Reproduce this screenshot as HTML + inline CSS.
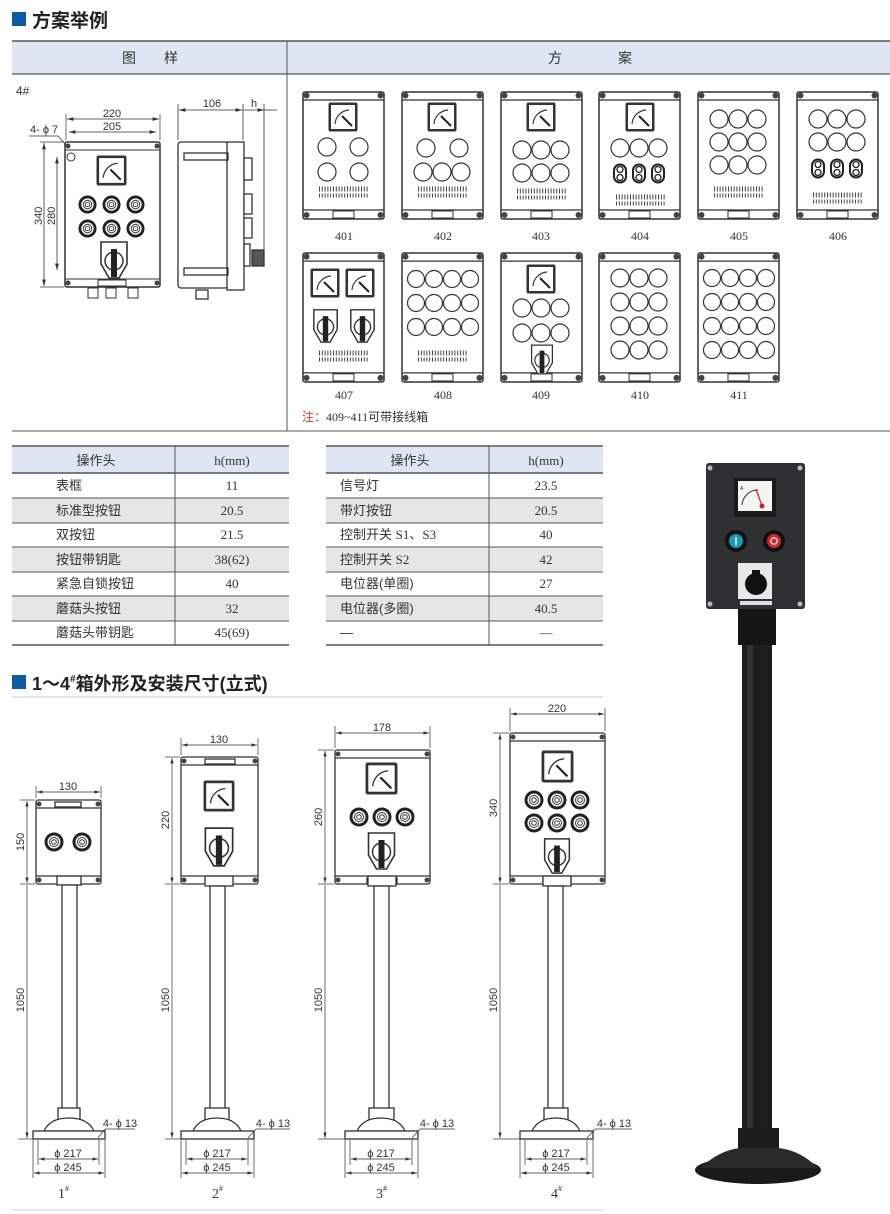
<!DOCTYPE html>
<html><head><meta charset="utf-8"><style>
html,body{margin:0;padding:0;background:#fff;}
svg{display:block;font-family:"Liberation Sans","Noto Sans CJK SC",sans-serif;}
.s{font-family:"Liberation Serif","Noto Sans CJK SC",serif;}
</style></head><body>
<svg width="890" height="1214" viewBox="0 0 890 1214" xmlns="http://www.w3.org/2000/svg">
<defs>
<symbol id="meter" viewBox="0 0 30 30"><rect x="0.5" y="0.5" width="29" height="29" rx="2" fill="#333"/><rect x="3" y="3" width="24" height="24" fill="#fff"/><path d="M7,22 A15,15 0 0 1 21,8" fill="none" stroke="#333" stroke-width="1.2"/><line x1="14" y1="14" x2="24" y2="24" stroke="#222" stroke-width="2"/></symbol>
<symbol id="sw" viewBox="0 0 30 40"><path d="M2,2 H28 V24 L20,38 H10 L2,24 Z" fill="#fff" stroke="#333" stroke-width="1.6"/><circle cx="15" cy="21" r="9" fill="none" stroke="#333" stroke-width="1.5"/><rect x="12" y="9" width="6" height="28" fill="#222"/></symbol>
<symbol id="btn" viewBox="0 0 20 20"><circle cx="10" cy="10" r="9.5" fill="#222"/><circle cx="10" cy="10" r="6.5" fill="#fff"/><circle cx="10" cy="10" r="4.5" fill="none" stroke="#333"/><circle cx="10" cy="10" r="2.3" fill="none" stroke="#333"/></symbol>
<symbol id="ov" viewBox="0 0 14 20"><rect x="1" y="1" width="12" height="18" rx="6" fill="none" stroke="#222" stroke-width="2"/><circle cx="7" cy="6" r="3" fill="none" stroke="#222" stroke-width="1.3"/><circle cx="7" cy="14" r="3" fill="none" stroke="#222" stroke-width="1.3"/></symbol>
<symbol id="sb" viewBox="0 0 83 129" preserveAspectRatio="none"><rect x="1" y="1" width="81" height="127" rx="2" fill="#fff" stroke="#333" stroke-width="1.5"/><line x1="1" y1="9" x2="82" y2="9" stroke="#333" stroke-width="1.2"/><line x1="1" y1="119" x2="82" y2="119" stroke="#333" stroke-width="1.2"/><circle cx="4.5" cy="4.5" r="3" fill="#444"/><circle cx="78.5" cy="4.5" r="3" fill="#444"/><circle cx="4.5" cy="124" r="3" fill="#444"/><circle cx="78.5" cy="124" r="3" fill="#444"/><rect x="31" y="120" width="21" height="7" fill="#fff" stroke="#333"/></symbol>
<symbol id="term" viewBox="0 0 50 12"><line x1="0" y1="3" x2="50" y2="3" stroke="#444" stroke-width="5" stroke-dasharray="1 1.8"/><line x1="0" y1="9.5" x2="50" y2="9.5" stroke="#444" stroke-width="4" stroke-dasharray="1 1.8"/></symbol>
<marker id="ar" viewBox="0 0 10 6" refX="10" refY="3" markerWidth="8" markerHeight="5" orient="auto-start-reverse"><path d="M0,0 L10,3 L0,6 Z" fill="#333"/></marker>
</defs>

<!-- Title 1 -->
<rect x="12" y="12" width="14" height="14" fill="#0d5aa7"/>
<text x="32" y="27" font-size="19" font-weight="bold" fill="#222">方案举例</text>
<rect x="12" y="41" width="878" height="33" fill="#dde6f2"/>
<line x1="12" y1="41" x2="890" y2="41" stroke="#555" stroke-width="1.5"/>
<line x1="12" y1="74" x2="890" y2="74" stroke="#555" stroke-width="1.2"/>
<line x1="287" y1="41" x2="287" y2="431" stroke="#555" stroke-width="1"/>
<line x1="12" y1="431" x2="890" y2="431" stroke="#555" stroke-width="1"/>
<text x="150" y="63" font-size="14" text-anchor="middle" fill="#333">图　　样</text>
<text x="590" y="63" font-size="14" text-anchor="middle" fill="#333">方　　　　案</text>
<text x="16" y="95" font-size="12" fill="#333">4#</text>

<!-- 4# front -->
<g stroke="#333" fill="none" font-size="11">
<rect x="65" y="142" width="95" height="145" rx="2" fill="#fff" stroke-width="1.5"/>
<line x1="65" y1="150" x2="160" y2="150"/><line x1="65" y1="279" x2="160" y2="279"/>
<rect x="98" y="280" width="28" height="6"/>
<line x1="66" y1="114" x2="66" y2="140" stroke-width=".7"/><line x1="160" y1="114" x2="160" y2="140" stroke-width=".7"/>
<line x1="67" y1="119" x2="159" y2="119" stroke-width=".8" marker-start="url(#ar)" marker-end="url(#ar)"/>
<line x1="69" y1="132" x2="156" y2="132" stroke-width=".8" marker-start="url(#ar)" marker-end="url(#ar)"/>
<line x1="40" y1="142" x2="64" y2="142" stroke-width=".7"/><line x1="40" y1="287" x2="64" y2="287" stroke-width=".7"/>
<line x1="44" y1="143" x2="44" y2="286" stroke-width=".8" marker-start="url(#ar)" marker-end="url(#ar)"/>
<line x1="57" y1="157" x2="57" y2="270" stroke-width=".8" marker-start="url(#ar)" marker-end="url(#ar)"/>
<line x1="29" y1="136" x2="58" y2="136" stroke-width=".7"/><line x1="58" y1="136" x2="67" y2="146" stroke-width=".7"/>
<circle cx="71" cy="157" r="4"/>
<rect x="88" y="288" width="10" height="10"/><rect x="106" y="288" width="10" height="10"/><rect x="128" y="288" width="10" height="10"/>
</g>
<g fill="#444"><circle cx="68" cy="146" r="2.5"/><circle cx="157" cy="146" r="2.5"/><circle cx="68" cy="283" r="2.5"/><circle cx="157" cy="283" r="2.5"/></g>
<text x="112" y="117" font-size="11" text-anchor="middle" fill="#333">220</text>
<text x="112" y="130" font-size="11" text-anchor="middle" fill="#333">205</text>
<text x="30" y="133" font-size="11" fill="#333">4- ϕ 7</text>
<text x="0" y="0" font-size="11" fill="#333" transform="translate(42,225) rotate(-90)">340</text>
<text x="0" y="0" font-size="11" fill="#333" transform="translate(55,225) rotate(-90)">280</text>
<use href="#meter" x="96" y="155" width="31" height="31"/>
<use href="#btn" x="78" y="195" width="19" height="19"/><use href="#btn" x="102" y="195" width="19" height="19"/><use href="#btn" x="126" y="195" width="19" height="19"/>
<use href="#btn" x="78" y="219" width="19" height="19"/><use href="#btn" x="102" y="219" width="19" height="19"/><use href="#btn" x="126" y="219" width="19" height="19"/>
<use href="#sw" x="97" y="240" width="34" height="40"/>

<!-- 4# side -->
<g stroke="#333" fill="#fff" stroke-width="1.3">
<rect x="178" y="142" width="50" height="146" rx="3"/>
<rect x="227" y="142" width="17" height="148"/>
<rect x="184" y="153" width="44" height="7" fill="none"/>
<rect x="184" y="268" width="44" height="7" fill="none"/>
<rect x="244" y="158" width="8" height="22"/><rect x="244" y="194" width="8" height="20"/><rect x="244" y="218" width="8" height="20"/><rect x="244" y="244" width="6" height="22"/>
<rect x="252" y="250" width="12" height="16" fill="#555"/>
<rect x="196" y="290" width="12" height="9"/>
</g>
<g stroke="#333" stroke-width=".8">
<line x1="178" y1="104" x2="178" y2="140"/><line x1="243" y1="104" x2="243" y2="140"/><line x1="264" y1="104" x2="264" y2="265"/>
<line x1="179" y1="110" x2="242" y2="110" marker-start="url(#ar)" marker-end="url(#ar)"/>
<line x1="243" y1="110" x2="264" y2="110" marker-end="url(#ar)"/><line x1="264" y1="110" x2="277" y2="110"/>
</g>
<text x="212" y="107" font-size="11" text-anchor="middle" fill="#333">106</text>
<text x="254" y="107" font-size="11" text-anchor="middle" fill="#333">h</text>

<!-- scheme boxes row1 -->
<g>
<use href="#sb" x="302" y="91" width="83" height="129"/><use href="#sb" x="401" y="91" width="83" height="129"/><use href="#sb" x="500" y="91" width="83" height="129"/><use href="#sb" x="598" y="91" width="83" height="129"/><use href="#sb" x="697" y="91" width="83" height="129"/><use href="#sb" x="796" y="91" width="83" height="129"/>
<use href="#sb" x="302" y="252" width="83" height="131"/><use href="#sb" x="401" y="252" width="83" height="131"/><use href="#sb" x="500" y="252" width="83" height="131"/><use href="#sb" x="598" y="252" width="83" height="131"/><use href="#sb" x="697" y="252" width="83" height="131"/>
</g>
<g fill="none" stroke="#333" stroke-width="1.2">
<!-- 401 -->
<circle cx="327" cy="147" r="9"/><circle cx="359" cy="147" r="9"/><circle cx="327" cy="172" r="9"/><circle cx="359" cy="172" r="9"/>
<!-- 402 -->
<circle cx="426" cy="148" r="9"/><circle cx="459" cy="148" r="9"/><circle cx="423" cy="172" r="9"/><circle cx="442" cy="172" r="9"/><circle cx="461" cy="172" r="9"/>
<!-- 403 -->
<circle cx="522" cy="150" r="9"/><circle cx="541" cy="150" r="9"/><circle cx="560" cy="150" r="9"/><circle cx="522" cy="173" r="9"/><circle cx="541" cy="173" r="9"/><circle cx="560" cy="173" r="9"/>
<!-- 404 -->
<circle cx="620" cy="148" r="9"/><circle cx="639" cy="148" r="9"/><circle cx="658" cy="148" r="9"/>
<!-- 405 -->
<circle cx="719" cy="119" r="9"/><circle cx="738" cy="119" r="9"/><circle cx="757" cy="119" r="9"/><circle cx="719" cy="142" r="9"/><circle cx="738" cy="142" r="9"/><circle cx="757" cy="142" r="9"/><circle cx="719" cy="165" r="9"/><circle cx="738" cy="165" r="9"/><circle cx="757" cy="165" r="9"/>
<!-- 406 -->
<circle cx="818" cy="119" r="9"/><circle cx="837" cy="119" r="9"/><circle cx="856" cy="119" r="9"/><circle cx="818" cy="142" r="9"/><circle cx="837" cy="142" r="9"/><circle cx="856" cy="142" r="9"/>
<!-- 408 -->
<circle cx="416" cy="279" r="8.5"/><circle cx="434" cy="279" r="8.5"/><circle cx="452" cy="279" r="8.5"/><circle cx="470" cy="279" r="8.5"/>
<circle cx="416" cy="303" r="8.5"/><circle cx="434" cy="303" r="8.5"/><circle cx="452" cy="303" r="8.5"/><circle cx="470" cy="303" r="8.5"/>
<circle cx="416" cy="327" r="8.5"/><circle cx="434" cy="327" r="8.5"/><circle cx="452" cy="327" r="8.5"/><circle cx="470" cy="327" r="8.5"/>
<!-- 409 -->
<circle cx="522" cy="308" r="9"/><circle cx="541" cy="308" r="9"/><circle cx="560" cy="308" r="9"/><circle cx="522" cy="333" r="9"/><circle cx="541" cy="333" r="9"/><circle cx="560" cy="333" r="9"/>
<!-- 410 -->
<circle cx="620" cy="278" r="9"/><circle cx="639" cy="278" r="9"/><circle cx="658" cy="278" r="9"/><circle cx="620" cy="302" r="9"/><circle cx="639" cy="302" r="9"/><circle cx="658" cy="302" r="9"/><circle cx="620" cy="326" r="9"/><circle cx="639" cy="326" r="9"/><circle cx="658" cy="326" r="9"/><circle cx="620" cy="350" r="9"/><circle cx="639" cy="350" r="9"/><circle cx="658" cy="350" r="9"/>
<!-- 411 -->
<circle cx="712" cy="278" r="8.5"/><circle cx="730" cy="278" r="8.5"/><circle cx="748" cy="278" r="8.5"/><circle cx="766" cy="278" r="8.5"/>
<circle cx="712" cy="302" r="8.5"/><circle cx="730" cy="302" r="8.5"/><circle cx="748" cy="302" r="8.5"/><circle cx="766" cy="302" r="8.5"/>
<circle cx="712" cy="326" r="8.5"/><circle cx="730" cy="326" r="8.5"/><circle cx="748" cy="326" r="8.5"/><circle cx="766" cy="326" r="8.5"/>
<circle cx="712" cy="350" r="8.5"/><circle cx="730" cy="350" r="8.5"/><circle cx="748" cy="350" r="8.5"/><circle cx="766" cy="350" r="8.5"/>
</g>
<use href="#meter" x="328" y="102" width="30" height="30"/><use href="#meter" x="427" y="102" width="30" height="30"/><use href="#meter" x="526" y="102" width="30" height="30"/><use href="#meter" x="625" y="102" width="30" height="30"/>
<use href="#meter" x="310" y="268" width="30" height="30"/><use href="#meter" x="345" y="268" width="30" height="30"/><use href="#meter" x="526" y="264" width="30" height="30"/>
<use href="#ov" x="613" y="163" width="14" height="21"/><use href="#ov" x="632" y="163" width="14" height="21"/><use href="#ov" x="651" y="163" width="14" height="21"/>
<use href="#ov" x="811" y="158" width="14" height="21"/><use href="#ov" x="830" y="158" width="14" height="21"/><use href="#ov" x="849" y="158" width="14" height="21"/>
<use href="#sw" x="312" y="308" width="27" height="36"/><use href="#sw" x="349" y="308" width="27" height="36"/><use href="#sw" x="530" y="343" width="24" height="33"/>
<use href="#term" x="318" y="186" width="52" height="12"/><use href="#term" x="417" y="186" width="52" height="12"/><use href="#term" x="516" y="188" width="52" height="12"/><use href="#term" x="615" y="194" width="52" height="12"/><use href="#term" x="713" y="186" width="52" height="12"/><use href="#term" x="812" y="192" width="52" height="12"/>
<use href="#term" x="318" y="350" width="52" height="12"/><use href="#term" x="417" y="350" width="52" height="12"/>
<g class="s" font-size="12" fill="#333" text-anchor="middle">
<text x="344" y="240">401</text><text x="443" y="240">402</text><text x="541" y="240">403</text><text x="640" y="240">404</text><text x="739" y="240">405</text><text x="838" y="240">406</text>
<text x="344" y="399">407</text><text x="443" y="399">408</text><text x="541" y="399">409</text><text x="640" y="399">410</text><text x="739" y="399">411</text>
</g>
<text x="302" y="421" font-size="12" fill="#333"><tspan fill="#d9342b">注：</tspan><tspan class="s">409~411</tspan>可带接线箱</text>

<!-- Tables -->
<g>
<rect x="12" y="447" width="277" height="26" fill="#dde6f2"/><rect x="326" y="447" width="277" height="26" fill="#dde6f2"/>
<rect x="12" y="498" width="277" height="25" fill="#e6e6e6"/><rect x="12" y="547" width="277" height="25" fill="#e6e6e6"/><rect x="12" y="596" width="277" height="25" fill="#e6e6e6"/>
<rect x="326" y="498" width="277" height="25" fill="#e6e6e6"/><rect x="326" y="547" width="277" height="25" fill="#e6e6e6"/><rect x="326" y="596" width="277" height="25" fill="#e6e6e6"/>
<g stroke="#555" stroke-width="1">
<line x1="12" y1="446" x2="289" y2="446" stroke-width="1.5"/><line x1="12" y1="473" x2="289" y2="473" stroke-width="1.5"/><line x1="12" y1="498" x2="289" y2="498"/><line x1="12" y1="523" x2="289" y2="523"/><line x1="12" y1="547" x2="289" y2="547"/><line x1="12" y1="572" x2="289" y2="572"/><line x1="12" y1="596" x2="289" y2="596"/><line x1="12" y1="621" x2="289" y2="621"/><line x1="12" y1="645" x2="289" y2="645" stroke-width="1.5"/>
<line x1="175" y1="446" x2="175" y2="645"/>
<line x1="326" y1="446" x2="603" y2="446" stroke-width="1.5"/><line x1="326" y1="473" x2="603" y2="473" stroke-width="1.5"/><line x1="326" y1="498" x2="603" y2="498"/><line x1="326" y1="523" x2="603" y2="523"/><line x1="326" y1="547" x2="603" y2="547"/><line x1="326" y1="572" x2="603" y2="572"/><line x1="326" y1="596" x2="603" y2="596"/><line x1="326" y1="621" x2="603" y2="621"/><line x1="326" y1="645" x2="603" y2="645" stroke-width="1.5"/>
<line x1="489" y1="446" x2="489" y2="645"/>
</g>
<g font-size="13" fill="#333">
<text x="96" y="465" text-anchor="middle">操作头</text><text class="s" x="232" y="465" text-anchor="middle">h(mm)</text>
<text x="410" y="465" text-anchor="middle">操作头</text><text class="s" x="546" y="465" text-anchor="middle">h(mm)</text>
<text x="56" y="490">表框</text><text x="56" y="515">标准型按钮</text><text x="56" y="539">双按钮</text><text x="56" y="564">按钮带钥匙</text><text x="56" y="588">紧急自锁按钮</text><text x="56" y="613">蘑菇头按钮</text><text x="56" y="637">蘑菇头带钥匙</text>
<text x="340" y="490">信号灯</text><text x="340" y="515">带灯按钮</text><text x="340" y="539">控制开关 <tspan class="s">S1、S3</tspan></text><text x="340" y="564">控制开关 <tspan class="s">S2</tspan></text><text x="340" y="588">电位器(单圈)</text><text x="340" y="613">电位器(多圈)</text><text x="340" y="637">—</text>
<g class="s" text-anchor="middle">
<text x="232" y="490">11</text><text x="232" y="515">20.5</text><text x="232" y="539">21.5</text><text x="232" y="564">38(62)</text><text x="232" y="588">40</text><text x="232" y="613">32</text><text x="232" y="637">45(69)</text>
<text x="546" y="490">23.5</text><text x="546" y="515">20.5</text><text x="546" y="539">40</text><text x="546" y="564">42</text><text x="546" y="588">27</text><text x="546" y="613">40.5</text><text x="546" y="637">—</text>
</g></g>
</g>

<!-- Title 2 -->
<rect x="12" y="675" width="14" height="14" fill="#0d5aa7"/>
<text x="32" y="690" font-size="18" font-weight="bold" fill="#222">1～4<tspan font-size="10" dy="-8">#</tspan><tspan dy="8">箱外形及安装尺寸(立式)</tspan></text>
<line x1="12" y1="697" x2="603" y2="697" stroke="#ccc" stroke-width="1"/>
<line x1="12" y1="1210" x2="603" y2="1210" stroke="#ccc" stroke-width="1"/>

<!-- Stands -->
<g stroke="#333" fill="#fff" stroke-width="1.3">
<!-- 1 -->
<rect x="36" y="800" width="65" height="84" rx="2"/><line x1="36" y1="808" x2="101" y2="808"/><line x1="36" y1="876" x2="101" y2="876"/><rect x="55" y="802" width="26" height="5"/>
<rect x="57" y="876" width="24" height="9"/><rect x="62" y="885" width="15" height="235"/><rect x="58" y="1108" width="22" height="16"/><path d="M44,1131 Q50,1118 69,1118 Q88,1118 94,1131 Z"/><rect x="33" y="1131" width="72" height="8"/>
<!-- 2 -->
<rect x="181" y="757" width="77" height="127" rx="2"/><line x1="181" y1="765" x2="258" y2="765"/><line x1="181" y1="876" x2="258" y2="876"/><rect x="205" y="759" width="30" height="5"/>
<rect x="205" y="876" width="28" height="10"/><rect x="210" y="886" width="15" height="234"/><rect x="205" y="1108" width="24" height="16"/><path d="M193,1131 Q199,1118 217,1118 Q235,1118 241,1131 Z"/><rect x="181" y="1131" width="73" height="8"/>
<!-- 3 -->
<rect x="335" y="750" width="95" height="134" rx="2"/><line x1="335" y1="758" x2="430" y2="758"/><line x1="335" y1="876" x2="430" y2="876"/><rect x="367" y="878" width="30" height="6"/>
<rect x="368" y="876" width="28" height="10"/><rect x="374" y="886" width="15" height="234"/><rect x="369" y="1108" width="25" height="16"/><path d="M357,1131 Q363,1118 381,1118 Q399,1118 405,1131 Z"/><rect x="345" y="1131" width="73" height="8"/>
<!-- 4 -->
<rect x="510" y="733" width="95" height="151" rx="2"/><line x1="510" y1="741" x2="605" y2="741"/><line x1="510" y1="876" x2="605" y2="876"/><rect x="543" y="878" width="28" height="6"/>
<rect x="543" y="876" width="28" height="10"/><rect x="548" y="886" width="15" height="234"/><rect x="544" y="1108" width="24" height="16"/><path d="M532,1131 Q538,1118 556,1118 Q574,1118 580,1131 Z"/><rect x="520" y="1131" width="73" height="8"/>
</g>
<g fill="#444">
<circle cx="39" cy="804" r="2.5"/><circle cx="98" cy="804" r="2.5"/><circle cx="39" cy="880" r="2.5"/><circle cx="98" cy="880" r="2.5"/>
<circle cx="184" cy="761" r="2.5"/><circle cx="255" cy="761" r="2.5"/><circle cx="184" cy="880" r="2.5"/><circle cx="255" cy="880" r="2.5"/>
<circle cx="338" cy="754" r="2.5"/><circle cx="427" cy="754" r="2.5"/><circle cx="338" cy="880" r="2.5"/><circle cx="427" cy="880" r="2.5"/>
<circle cx="513" cy="737" r="2.5"/><circle cx="602" cy="737" r="2.5"/><circle cx="513" cy="880" r="2.5"/><circle cx="602" cy="880" r="2.5"/>
</g>
<use href="#btn" x="44" y="832" width="20" height="20"/><use href="#btn" x="72" y="832" width="20" height="20"/>
<use href="#meter" x="203" y="780" width="32" height="32"/><use href="#sw" x="202" y="826" width="34" height="42"/>
<use href="#meter" x="365" y="762" width="33" height="33"/><use href="#btn" x="349" y="807" width="20" height="20"/><use href="#btn" x="372" y="807" width="20" height="20"/><use href="#btn" x="395" y="807" width="20" height="20"/><use href="#sw" x="365" y="831" width="33" height="40"/>
<use href="#meter" x="541" y="750" width="33" height="33"/>
<use href="#btn" x="524" y="790" width="20" height="20"/><use href="#btn" x="547" y="790" width="20" height="20"/><use href="#btn" x="570" y="790" width="20" height="20"/>
<use href="#btn" x="524" y="813" width="20" height="20"/><use href="#btn" x="547" y="813" width="20" height="20"/><use href="#btn" x="570" y="813" width="20" height="20"/>
<use href="#sw" x="541" y="837" width="32" height="38"/>

<g stroke="#333" stroke-width=".7" fill="none">
<!-- dims 1 -->
<line x1="36" y1="786" x2="36" y2="798"/><line x1="101" y1="786" x2="101" y2="798"/><line x1="37" y1="792" x2="100" y2="792" marker-start="url(#ar)" marker-end="url(#ar)"/>
<line x1="20" y1="800" x2="35" y2="800"/><line x1="20" y1="884" x2="35" y2="884"/><line x1="18" y1="1139" x2="33" y2="1139"/>
<line x1="27" y1="801" x2="27" y2="883" marker-start="url(#ar)" marker-end="url(#ar)"/><line x1="27" y1="885" x2="27" y2="1138" marker-end="url(#ar)"/>
<line x1="38" y1="1140" x2="38" y2="1165"/><line x1="99" y1="1140" x2="99" y2="1165"/><line x1="33" y1="1140" x2="33" y2="1178"/><line x1="105" y1="1140" x2="105" y2="1178"/>
<line x1="39" y1="1159" x2="98" y2="1159" marker-start="url(#ar)" marker-end="url(#ar)"/><line x1="34" y1="1173" x2="104" y2="1173" marker-start="url(#ar)" marker-end="url(#ar)"/>
<line x1="98" y1="1138" x2="105" y2="1129"/><line x1="105" y1="1129" x2="135" y2="1129"/>
<!-- dims 2 -->
<line x1="181" y1="738" x2="181" y2="755"/><line x1="258" y1="738" x2="258" y2="755"/><line x1="182" y1="745" x2="257" y2="745" marker-start="url(#ar)" marker-end="url(#ar)"/>
<line x1="165" y1="757" x2="180" y2="757"/><line x1="165" y1="884" x2="180" y2="884"/><line x1="165" y1="1139" x2="181" y2="1139"/>
<line x1="172" y1="758" x2="172" y2="883" marker-start="url(#ar)" marker-end="url(#ar)"/><line x1="172" y1="885" x2="172" y2="1138" marker-end="url(#ar)"/>
<line x1="186" y1="1140" x2="186" y2="1165"/><line x1="248" y1="1140" x2="248" y2="1165"/><line x1="181" y1="1140" x2="181" y2="1178"/><line x1="254" y1="1140" x2="254" y2="1178"/>
<line x1="187" y1="1159" x2="247" y2="1159" marker-start="url(#ar)" marker-end="url(#ar)"/><line x1="182" y1="1173" x2="253" y2="1173" marker-start="url(#ar)" marker-end="url(#ar)"/>
<line x1="248" y1="1138" x2="256" y2="1129"/><line x1="256" y1="1129" x2="290" y2="1129"/>
<!-- dims 3 -->
<line x1="335" y1="726" x2="335" y2="748"/><line x1="430" y1="726" x2="430" y2="748"/><line x1="336" y1="733" x2="429" y2="733" marker-start="url(#ar)" marker-end="url(#ar)"/>
<line x1="318" y1="750" x2="334" y2="750"/><line x1="318" y1="884" x2="334" y2="884"/><line x1="318" y1="1139" x2="345" y2="1139"/>
<line x1="325" y1="751" x2="325" y2="883" marker-start="url(#ar)" marker-end="url(#ar)"/><line x1="325" y1="885" x2="325" y2="1138" marker-end="url(#ar)"/>
<line x1="350" y1="1140" x2="350" y2="1165"/><line x1="412" y1="1140" x2="412" y2="1165"/><line x1="345" y1="1140" x2="345" y2="1178"/><line x1="418" y1="1140" x2="418" y2="1178"/>
<line x1="351" y1="1159" x2="411" y2="1159" marker-start="url(#ar)" marker-end="url(#ar)"/><line x1="346" y1="1173" x2="417" y2="1173" marker-start="url(#ar)" marker-end="url(#ar)"/>
<line x1="412" y1="1138" x2="420" y2="1129"/><line x1="420" y1="1129" x2="455" y2="1129"/>
<!-- dims 4 -->
<line x1="510" y1="708" x2="510" y2="731"/><line x1="605" y1="708" x2="605" y2="731"/><line x1="511" y1="714" x2="604" y2="714" marker-start="url(#ar)" marker-end="url(#ar)"/>
<line x1="493" y1="733" x2="509" y2="733"/><line x1="493" y1="884" x2="509" y2="884"/><line x1="493" y1="1139" x2="520" y2="1139"/>
<line x1="500" y1="734" x2="500" y2="883" marker-start="url(#ar)" marker-end="url(#ar)"/><line x1="500" y1="885" x2="500" y2="1138" marker-end="url(#ar)"/>
<line x1="525" y1="1140" x2="525" y2="1165"/><line x1="587" y1="1140" x2="587" y2="1165"/><line x1="520" y1="1140" x2="520" y2="1178"/><line x1="593" y1="1140" x2="593" y2="1178"/>
<line x1="526" y1="1159" x2="586" y2="1159" marker-start="url(#ar)" marker-end="url(#ar)"/><line x1="521" y1="1173" x2="592" y2="1173" marker-start="url(#ar)" marker-end="url(#ar)"/>
<line x1="587" y1="1138" x2="595" y2="1129"/><line x1="595" y1="1129" x2="632" y2="1129"/>
</g>
<g font-size="11" fill="#333" text-anchor="middle">
<text x="68" y="790">130</text><text x="219" y="743">130</text><text x="382" y="731">178</text><text x="557" y="712">220</text>
<text x="68" y="1157">ϕ 217</text><text x="68" y="1171">ϕ 245</text>
<text x="217" y="1157">ϕ 217</text><text x="217" y="1171">ϕ 245</text>
<text x="381" y="1157">ϕ 217</text><text x="381" y="1171">ϕ 245</text>
<text x="556" y="1157">ϕ 217</text><text x="556" y="1171">ϕ 245</text>
<text x="120" y="1127">4- ϕ 13</text><text x="273" y="1127">4- ϕ 13</text><text x="437" y="1127">4- ϕ 13</text><text x="614" y="1127">4- ϕ 13</text>
<text transform="translate(24,842) rotate(-90)">150</text><text transform="translate(24,1000) rotate(-90)">1050</text>
<text transform="translate(169,820) rotate(-90)">220</text><text transform="translate(169,1000) rotate(-90)">1050</text>
<text transform="translate(322,817) rotate(-90)">260</text><text transform="translate(322,1000) rotate(-90)">1050</text>
<text transform="translate(497,808) rotate(-90)">340</text><text transform="translate(497,1000) rotate(-90)">1050</text>
</g>
<g class="s" font-size="14" fill="#333">
<text x="58" y="1198">1<tspan font-size="8" dy="-7">#</tspan></text>
<text x="212" y="1198">2<tspan font-size="8" dy="-7">#</tspan></text>
<text x="376" y="1198">3<tspan font-size="8" dy="-7">#</tspan></text>
<text x="551" y="1198">4<tspan font-size="8" dy="-7">#</tspan></text>
</g>

<!-- Photo -->
<rect x="742" y="608" width="30" height="525" fill="#1e1e1e"/>
<rect x="747" y="608" width="6" height="525" fill="#333"/>
<rect x="738" y="605" width="38" height="40" fill="#151515"/>
<rect x="738" y="1128" width="41" height="34" fill="#1c1c1c"/>
<ellipse cx="758" cy="1170" rx="63" ry="14" fill="#1a1a1a"/>
<path d="M700,1168 Q720,1150 740,1148 H778 Q800,1150 818,1168 Z" fill="#2a2a2a"/>
<rect x="706" y="463" width="99" height="146" rx="3" fill="#2f3032"/>
<g fill="#bbb"><circle cx="710" cy="468" r="2.5"/><circle cx="800" cy="468" r="2.5"/><circle cx="710" cy="604" r="2.5"/><circle cx="800" cy="604" r="2.5"/></g>
<rect x="734" y="478" width="42" height="39" fill="#1a1a1a"/>
<rect x="738" y="481" width="34" height="30" fill="#f4f4f4"/>
<path d="M742,505 A16,16 0 0 1 758,490" fill="none" stroke="#333" stroke-width="1"/>
<line x1="756" y1="489" x2="762" y2="506" stroke="#d22" stroke-width="1.2"/><circle cx="762" cy="506" r="2.5" fill="#c22"/>
<text x="740" y="490" font-size="5" fill="#333">A</text>
<circle cx="736" cy="541" r="11" fill="#111"/><circle cx="736" cy="541" r="7" fill="#1a9bb0"/><line x1="736" y1="537" x2="736" y2="545" stroke="#fff" stroke-width="1.3"/>
<circle cx="774" cy="541" r="11" fill="#111"/><circle cx="774" cy="541" r="7" fill="#d8262c"/><circle cx="774" cy="541" r="3.2" fill="none" stroke="#fff" stroke-width="1.2"/>
<rect x="738" y="563" width="34" height="36" fill="#e8e8e8"/>
<circle cx="756" cy="584" r="11" fill="#111"/><rect x="752" y="570" width="8" height="22" fill="#111"/>
<rect x="740" y="601" width="32" height="4" fill="#ddd"/>
</svg>
</body></html>
